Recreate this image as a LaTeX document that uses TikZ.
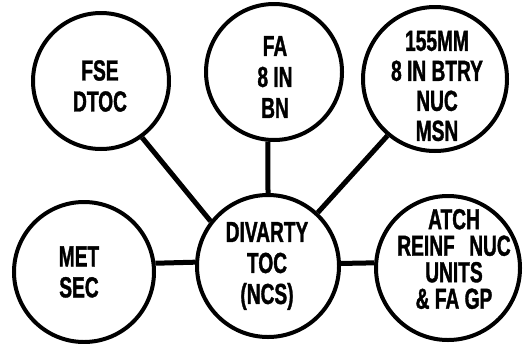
\documentclass[tikz,border=0pt]{standalone}
\usepackage{fontspec}
\setmainfont[FakeStretch=0.66,FakeBold=1.2]{Liberation Sans}
\begin{document}
\begin{tikzpicture}[x=1pt,y=-1pt,
  bubble/.style={circle,draw,line width=4pt,inner sep=0pt,minimum size=#1},
  lbl/.style={align=center,font=\fontsize{29}{31}\selectfont\bfseries,inner sep=0pt},
  link/.style={line width=5pt}]
\useasboundingbox (0,0) rectangle (526,343);
\node[bubble=136pt] (fse) at (101,81) {};
\node[bubble=136pt] (fa) at (274,72) {};
\node[bubble=144pt] (btry) at (435,79) {};
\node[bubble=140pt] (met) at (84,272) {};
\node[bubble=142pt] (div) at (268,266) {};
\node[bubble=144pt] (atch) at (448,268) {};
\node[lbl] (tfse) at (100,86) {FSE\\DTOC};
\node[lbl] (tfa) at (275,77) {FA\\8 IN\\BN};
\node[lbl,font=\fontsize{29}{30}\selectfont\bfseries] (tbtry) at (437,86) {155MM\\8 IN BTRY\\NUC\\MSN};
\node[lbl] (tmet) at (79,272) {MET\\SEC};
\node[lbl] (tdiv) at (267,266) {DIVARTY\\TOC\\(NCS)};
\node[lbl,font=\fontsize{29}{26.5}\selectfont\bfseries] (tatch) at (454,259) {ATCH\\REINF\enspace NUC\\UNITS\\\& FA GP};
\draw[link] (fse.-54.6) -- (div.142.8);
\draw[link] (fa.-95) -- (div.90);
\draw[link] (btry.230.2) -- (div.47.2);
\draw[link] (met.7.4) -- (div.177.6);
\draw[link] (div.2.4) -- (atch.176);
\end{tikzpicture}
\end{document}
